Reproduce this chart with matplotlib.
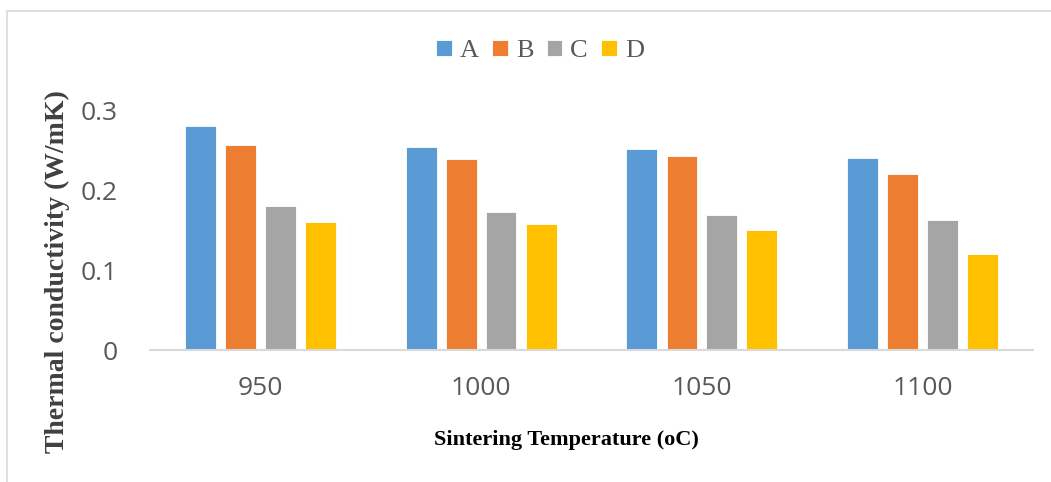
import numpy as np
import matplotlib.pyplot as plt
from matplotlib.patches import Rectangle

# data
temps = ['950', '1000', '1050', '1100']
series = ['A', 'B', 'C', 'D']
vals_A = [0.280, 0.254, 0.251, 0.240]
vals_B = [0.256, 0.239, 0.242, 0.220]
vals_C = [0.180, 0.172, 0.169, 0.162]
vals_D = [0.160, 0.157, 0.150, 0.120]
colors = ['#5B9BD5', '#ED7D31', '#A5A5A5', '#FFC000']

fig = plt.figure(figsize=(10.51, 4.82), dpi=100)
ax = fig.add_axes([150/1051, 1 - 350/482, 883/1051, 240/482])

x = np.arange(len(temps))
width = 0.14
offsets = [-0.272, -0.09, 0.09, 0.272]
for vals, name, col, off in zip([vals_A, vals_B, vals_C, vals_D], series, colors, offsets):
    ax.bar(x + off, vals, width, color=col, label=name, edgecolor='white', linewidth=0.6)

ax.set_xlim(-0.5, 3.5)
ax.set_ylim(0, 0.3)
ax.set_yticks([0, 0.1, 0.2, 0.3])
ax.set_yticklabels(['0', '0.1', '0.2', '0.3'])
ax.set_xticks(x)
ax.set_xticklabels(temps)
for s in ['top', 'right', 'left']:
    ax.spines[s].set_visible(False)
ax.spines['bottom'].set_color('#D9D9D9')
ax.spines['bottom'].set_linewidth(1.5)
ax.tick_params(length=0, labelsize=19, labelcolor='#595959')
ax.tick_params(axis='y', pad=23)
ax.tick_params(axis='x', pad=19)
for t in ax.get_xticklabels() + ax.get_yticklabels():
    t.set_family('Open Sans')

fig.text(57/1051, 1 - 272/482, 'Thermal conductivity (W/mK)', rotation=90,
         ha='center', va='center', family='Liberation Serif', weight='bold',
         fontsize=20, color='#404040')
fig.text(566/1051, 1 - 440/482, 'Sintering Temperature (oC)', ha='center', va='center',
         family='Liberation Serif', weight='bold', fontsize=16, color='black')

leg = fig.legend(loc='center', bbox_to_anchor=(540/1051, 1 - 51/482), ncol=4, frameon=False,
                 prop={'family': 'Liberation Serif', 'size': 19}, handlelength=0.6,
                 handleheight=0.6, handletextpad=0.3, columnspacing=0.5, labelcolor='#595959')

# outer chart frame
fig.patches.append(Rectangle((7/1051, -0.1), 1.2, 1.1 - 11/482, transform=fig.transFigure,
                             fill=False, edgecolor='#D9D9D9', linewidth=1.2))

fig.savefig('out.png', dpi=100)
